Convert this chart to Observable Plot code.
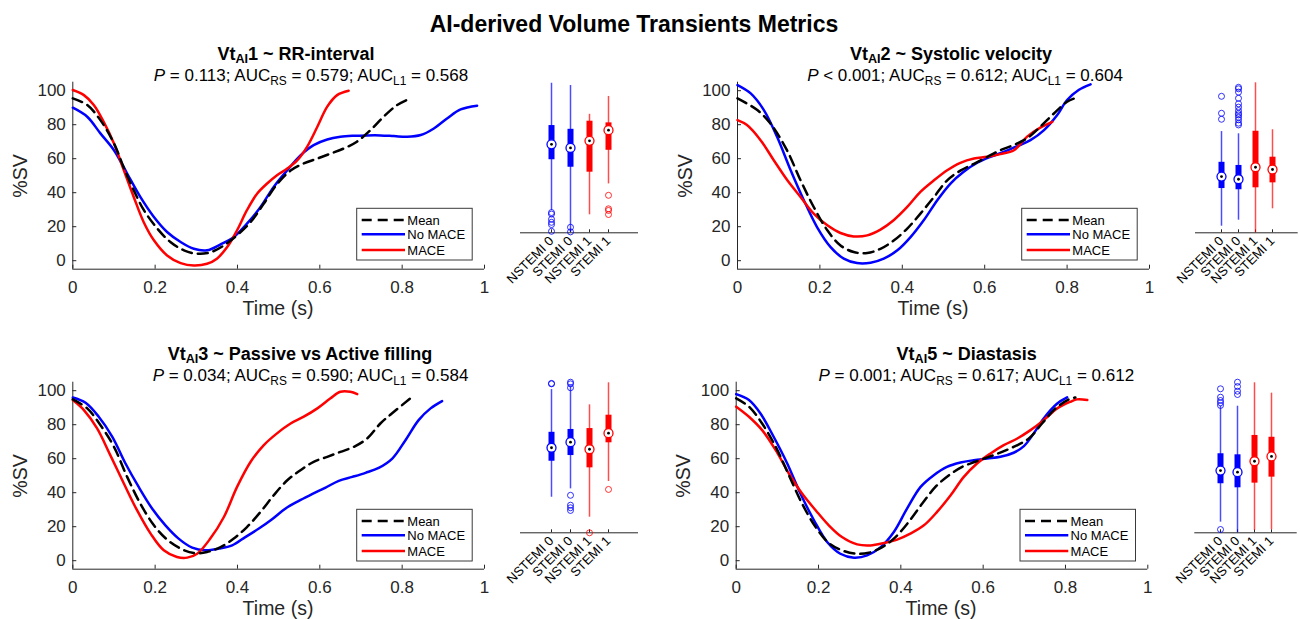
<!DOCTYPE html>
<html><head><meta charset="utf-8">
<script src="https://cdn.jsdelivr.net/npm/d3@7"></script>
<script src="https://cdn.jsdelivr.net/npm/@observablehq/plot@0.6"></script>
<style>
body{margin:0;background:#fff;}
#root{position:relative;width:1300px;height:619px;overflow:hidden;background:#fff;font-family:"Liberation Sans",Arial,sans-serif;}
#root svg{position:absolute;overflow:visible;}
</style></head><body><div id="root"></div>
<script>
// ---------- DATA ----------
const mainTitle = "AI-derived Volume Transients Metrics";
const metricNums = ["1", "2", "3", "5"];
const metricNames = ["RR-interval", "Systolic velocity", "Passive vs Active filling", "Diastasis"];
const pValues = ["= 0.113", "< 0.001", "= 0.034", "= 0.001"];
const aucRS = ["0.579", "0.612", "0.590", "0.617"];
const aucL1 = ["0.568", "0.604", "0.584", "0.612"];
const legendLabels = ["Mean", "No MACE", "MACE"];
const xTicks = [0, 0.2, 0.4, 0.6, 0.8, 1];
const yTicks = [0, 20, 40, 60, 80, 100];
const boxGroups = ["NSTEMI 0", "STEMI 0", "NSTEMI 1", "STEMI 1"];
const boxColors = ["#0000ff", "#0000ff", "#ff0000", "#ff0000"];

// [time (s), %SV]
const p1Mean = [[0,95.5],[0.035,91.6],[0.067,82.7],[0.1,69],[0.125,54],[0.15,40.5],[0.172,30],[0.205,19],[0.237,11],[0.27,6.1],[0.302,4.1],[0.334,4.9],[0.367,9],[0.399,15],[0.432,22.8],[0.464,33.6],[0.496,45],[0.529,53],[0.561,57.2],[0.594,60.1],[0.626,63],[0.658,66],[0.69,70],[0.723,76.8],[0.755,84.7],[0.788,91.6],[0.82,95.5]];
const p1NoMace = [[0,90],[0.035,84.7],[0.067,74.9],[0.1,65],[0.132,51.3],[0.164,37.5],[0.197,25.7],[0.229,16.9],[0.262,11],[0.294,7],[0.326,6.1],[0.359,9.6],[0.391,14],[0.423,21.8],[0.456,31.6],[0.488,43.4],[0.521,53.2],[0.553,62],[0.585,68],[0.618,71.3],[0.65,72.9],[0.683,73.5],[0.715,73.7],[0.747,73.7],[0.78,73.3],[0.812,72.9],[0.845,73.9],[0.877,77.8],[0.909,83.7],[0.942,89],[0.982,91.2]];
const p1Mace = [[0,100.4],[0.027,97.4],[0.051,91.6],[0.075,81.7],[0.1,69],[0.124,53.2],[0.148,37.5],[0.172,22.8],[0.197,12],[0.229,3.1],[0.262,-1.4],[0.294,-2.8],[0.326,-1.8],[0.35,1.2],[0.375,8],[0.399,17.9],[0.423,29.7],[0.448,39.5],[0.472,45.4],[0.496,50.3],[0.521,54.2],[0.545,59],[0.569,67],[0.594,78.8],[0.618,90.6],[0.642,97.4],[0.67,100]];

const p2Mean = [[0,95.5],[0.048,88.6],[0.08,80.7],[0.12,65],[0.153,47.3],[0.185,31.6],[0.218,17.9],[0.25,9],[0.282,5.1],[0.315,4.5],[0.347,7],[0.38,12],[0.412,18.9],[0.444,27.7],[0.477,37.5],[0.509,47.3],[0.541,53],[0.574,57],[0.606,61],[0.638,65],[0.67,68],[0.703,72],[0.735,78.8],[0.768,86.6],[0.8,93.5],[0.824,96]];
const p2NoMace = [[0,103.3],[0.032,98.4],[0.064,88.6],[0.096,72.9],[0.129,53.2],[0.161,35.6],[0.193,19.8],[0.226,8],[0.258,1.2],[0.29,-1.4],[0.323,-1.2],[0.355,1.2],[0.388,6.1],[0.42,13.9],[0.452,23.8],[0.485,35.6],[0.517,45.4],[0.549,52.3],[0.582,57.6],[0.614,61.1],[0.646,64],[0.679,67.4],[0.711,70.9],[0.744,76.8],[0.776,85.7],[0.8,94.5],[0.828,100.4],[0.857,103.7]];
const p2Mace = [[0,82.7],[0.023,79.8],[0.056,70.9],[0.088,59.1],[0.121,47.3],[0.153,37.5],[0.185,27.7],[0.218,20.8],[0.25,16.3],[0.282,14.3],[0.315,14.9],[0.347,18.3],[0.379,23.8],[0.412,31.6],[0.444,40.5],[0.477,47.3],[0.509,53.2],[0.541,57.6],[0.574,60.1],[0.606,61.1],[0.638,62.7],[0.671,65],[0.703,73],[0.735,78.3],[0.764,81.7]];

const p3Mean = [[0,94.9],[0.035,89.6],[0.067,79.8],[0.1,67],[0.132,49.3],[0.164,33.6],[0.197,20.8],[0.229,12.4],[0.262,7.1],[0.294,4.5],[0.326,5.1],[0.359,8],[0.391,13],[0.423,19.8],[0.456,28.7],[0.488,38.5],[0.521,47.3],[0.553,53.2],[0.585,58.2],[0.618,61.1],[0.65,64],[0.683,67],[0.715,71.9],[0.747,80.7],[0.78,87.6],[0.82,95.5]];
const p3NoMace = [[0,96],[0.031,92.9],[0.063,84.7],[0.096,72.9],[0.128,57.2],[0.16,43.4],[0.193,30.6],[0.225,20.8],[0.257,13],[0.29,7.7],[0.322,6.1],[0.355,7.1],[0.387,9],[0.419,13.9],[0.452,18.9],[0.484,24.4],[0.516,30.6],[0.549,35.2],[0.581,39.1],[0.614,43],[0.646,47],[0.679,49.3],[0.711,51.7],[0.743,54.6],[0.776,60.1],[0.808,70.9],[0.84,82.7],[0.869,89.6],[0.897,93.9]];
const p3Mace = [[0,94.5],[0.027,88.6],[0.059,77.8],[0.091,62.1],[0.124,45.4],[0.156,29.7],[0.189,15.9],[0.221,6.1],[0.253,2.2],[0.278,1.8],[0.302,4.1],[0.334,13],[0.367,25.7],[0.399,43.4],[0.432,58.2],[0.464,68],[0.496,74.9],[0.529,80.7],[0.561,84.7],[0.594,89.6],[0.626,95.5],[0.65,99.4],[0.674,99.4],[0.691,98]];

const p4Mean = [[0,95.5],[0.031,90.6],[0.063,80.7],[0.096,67],[0.128,50.3],[0.16,33.6],[0.193,19.8],[0.225,10.4],[0.257,6.1],[0.29,4.1],[0.322,4.7],[0.355,8],[0.387,13.9],[0.419,22.8],[0.452,33.6],[0.484,43.4],[0.517,50.3],[0.549,55.2],[0.581,58.2],[0.614,61.1],[0.646,64],[0.678,67.4],[0.711,71.9],[0.743,80.7],[0.776,89.6],[0.808,94.9],[0.824,96]];
const p4NoMace = [[0,98],[0.031,94.5],[0.059,86.6],[0.091,72.9],[0.124,57.2],[0.156,39.5],[0.189,23.8],[0.221,11],[0.253,4.1],[0.286,1.8],[0.318,3.1],[0.351,8],[0.383,16.9],[0.415,30.6],[0.448,43.4],[0.48,50.3],[0.512,55.2],[0.545,57.8],[0.577,59.1],[0.61,60.1],[0.642,61.1],[0.674,63.5],[0.699,67.4],[0.723,74.9],[0.747,83.7],[0.78,92.5],[0.804,96.1]];
const p4Mace = [[0,90.6],[0.031,84.7],[0.063,76.8],[0.096,65],[0.128,51.3],[0.16,39.5],[0.193,29.7],[0.225,20.8],[0.257,13.9],[0.294,9.6],[0.326,9],[0.359,10.4],[0.391,12.4],[0.423,15.9],[0.456,20.8],[0.488,28.7],[0.521,38.5],[0.553,49.3],[0.585,57.2],[0.618,63.1],[0.65,68],[0.683,71.9],[0.715,76.8],[0.747,82.7],[0.78,89.6],[0.812,93.5],[0.828,94.9],[0.853,94.5]];

// boxplot statistics per panel (relative units, axis bottom = 0), order = boxGroups
const boxLo  = [[14.9, 0.4, 12, 32.6], [4.4, 8.4, 0, 16], [23.7, 29.3, 10.4, 34.2], [7.1, 0, 1.6, 2]];
const boxQ1  = [[48.7, 43.7, 40.4, 55], [29.5, 28.7, 30, 33.3], [47.7, 51.5, 43.3, 60], [32.7, 30, 33.1, 37.1]];
const boxMed = [[59, 56.6, 61.3, 68.4], [37.5, 35.7, 43.7, 42.2], [56.7, 60.4, 55.7, 66.4], [41.5, 40.4, 47.7, 50.9]];
const boxQ3  = [[71.5, 69, 74.4, 73.3], [47, 44.9, 67.7, 50.4], [67, 68.9, 69.5, 78.4], [52.7, 52, 64.9, 63.7]];
const boxHi  = [[99.7, 98.2, 79, 90.9], [67.5, 66, 100, 68.7], [95.5, 97.5, 85.3, 100], [84.4, 84.4, 100, 93.1]];
const boxOut = [
  [[13.5, 12.5, 9, 7, 5.5, 1], [3.7, 0.6], [], [25, 16, 14.9, 12.2]],
  [[91, 79.7, 75.7], [97, 96, 93.8, 89.7, 86, 83.8, 81.5, 79.7, 78.6, 77, 75.3, 73.1, 71.9], [], []],
  [[99.3, 99.6], [100.4, 99.3, 96.7, 25, 18.4, 16.7, 14.9], [0], [28.9]],
  [[96, 90.4, 88.2, 86.7, 84.9, 2.2], [100.4, 97.5, 94.4, 92.2], [], []]
];

// ---------- LAYOUT ----------
const FONT = '"Liberation Sans", Arial, sans-serif';
const AX = "#262626";
const root = document.getElementById("root");
const series = [[p1Mean, p1NoMace, p1Mace], [p2Mean, p2NoMace, p2Mace], [p3Mean, p3NoMace, p3Mace], [p4Mean, p4NoMace, p4Mace]];
const lineGeom = [
  {left: 0, top: 70, w: 500, h: 250, ml: 72.3, mr: 16, mt: 11.7, mb: 51.3},
  {left: 660, top: 70, w: 500, h: 250, ml: 77, mr: 11, mt: 11.7, mb: 51.3},
  {left: 0, top: 370, w: 500, h: 249, ml: 72.3, mr: 16, mt: 11.7, mb: 50.3},
  {left: 660, top: 370, w: 500, h: 249, ml: 75.7, mr: 12.7, mt: 11.7, mb: 50.3}
];
const boxGeom = [
  {left: 505, top: 70, w: 150, h: 240, ml: 15, mr: 17, mt: 12.3, mb: 77.7},
  {left: 1180, top: 70, w: 120, h: 240, ml: 15, mr: 2.3, mt: 12.3, mb: 77.7},
  {left: 505, top: 370, w: 150, h: 249, ml: 15, mr: 17, mt: 12.3, mb: 86.7},
  {left: 1180, top: 370, w: 120, h: 249, ml: 14.3, mr: 3.3, mt: 12.3, mb: 86.7}
];
const txt = {
  titleX: [296, 951, 300, 966.7], titleY: [59.7, 59.7, 359.7, 359.7],
  subX: [311, 965, 310.5, 976.3], subY: [81, 81, 381, 381],
  ylabX: [20, 684.7, 20, 683.4], ylabY: [176, 176, 476, 476],
  xlabX: [278, 933, 278, 941], xlabY: [315, 315, 614.5, 614.5],
  legX: [356.7, 1021.7, 356.7, 1020], legY: [208.3, 208.3, 509.3, 509.3]
};

function place(el, g) {
  el.style.position = "absolute";
  el.style.left = g.left + "px";
  el.style.top = g.top + "px";
  root.appendChild(el);
}

for (let k = 0; k < 4; k++) {
  const g = lineGeom[k];
  const fw = g.w - g.ml - g.mr, fh = g.h - g.mt - g.mb;
  const [mean, noMace, mace] = series[k];
  const chart = Plot.plot({
    width: g.w, height: g.h,
    marginLeft: g.ml, marginRight: g.mr, marginTop: g.mt, marginBottom: g.mb,
    x: {domain: [0, 1]},
    y: {domain: [-5, 105]},
    style: {fontFamily: FONT, fontSize: "17px", color: AX, background: "transparent", overflow: "visible"},
    marks: [
      Plot.ruleX([0], {stroke: AX, strokeWidth: 1}),
      Plot.ruleY([-5], {stroke: AX, strokeWidth: 1}),
      Plot.tickX(xTicks, {x: d => d, stroke: AX, insetTop: fh - 4}),
      Plot.tickY(yTicks, {y: d => d, stroke: AX, insetRight: fw - 4}),
      Plot.axisX({ticks: xTicks, tickSize: 0, tickPadding: 12, tickFormat: d3.format("~g"), label: null}),
      Plot.axisY({ticks: yTicks, tickSize: 0, tickPadding: 7, label: null}),
      Plot.line(noMace, {stroke: "#0000ff", strokeWidth: 2.5, curve: "catmull-rom"}),
      Plot.line(mace, {stroke: "#ff0000", strokeWidth: 2.5, curve: "catmull-rom"}),
      Plot.line(mean, {stroke: "#000000", strokeWidth: 2.5, strokeDasharray: "10,6", curve: "catmull-rom"})
    ]
  });
  place(chart, g);
}

for (let k = 0; k < 4; k++) {
  const g = boxGeom[k];
  const fh = g.h - g.mt - g.mb;
  const rows = boxGroups.map((grp, j) => ({
    g: grp, c: boxColors[j], lo: boxLo[k][j], q1: boxQ1[k][j], med: boxMed[k][j], q3: boxQ3[k][j], hi: boxHi[k][j]
  }));
  const outs = boxGroups.flatMap((grp, j) => boxOut[k][j].map(v => ({g: grp, c: boxColors[j], v})));
  const chart = Plot.plot({
    width: g.w, height: g.h,
    marginLeft: g.ml, marginRight: g.mr, marginTop: g.mt, marginBottom: g.mb,
    x: {type: "point", domain: boxGroups, padding: 1.5},
    y: {domain: [0, 100], axis: null},
    color: {type: "identity"},
    style: {fontFamily: FONT, fontSize: "13px", color: "#000", background: "transparent", overflow: "visible"},
    marks: [
      Plot.ruleY([0], {stroke: AX, strokeWidth: 1}),
      Plot.tickX(boxGroups, {x: d => d, stroke: AX, insetTop: fh - 3}),
      Plot.axisX({tickSize: 0, tickPadding: 6, tickRotate: -45, label: null}),
      Plot.ruleX(rows, {x: "g", y1: "lo", y2: "hi", stroke: "c", strokeWidth: 1.5, strokeOpacity: 0.7}),
      Plot.ruleX(rows, {x: "g", y1: "q1", y2: "q3", stroke: "c", strokeWidth: 6}),
      Plot.dot(outs, {x: "g", y: "v", r: 3, stroke: "c", fill: "none", strokeWidth: 1, strokeOpacity: 0.8}),
      Plot.dot(rows, {x: "g", y: "med", r: 4.5, fill: "white", stroke: "c", strokeWidth: 1.3}),
      Plot.dot(rows, {x: "g", y: "med", r: 1.4, fill: "black", stroke: "none"})
    ]
  });
  place(chart, g);
}

// ---------- TEXT OVERLAY ----------
const ov = d3.create("svg").attr("width", 1300).attr("height", 619)
  .style("left", "0px").style("top", "0px").style("pointer-events", "none")
  .attr("font-family", FONT);

function rich(x, y, parts, size, weight, fill, shift) {
  const t = ov.append("text").attr("x", x).attr("y", y).attr("text-anchor", "middle")
    .attr("font-size", size).attr("font-weight", weight).attr("fill", fill);
  let shifted = 0;
  for (const p of parts) {
    const s = t.append("tspan").text(p.t);
    const want = p.sub ? shift : 0;
    if (want !== shifted) { s.attr("dy", want - shifted); shifted = want; }
    if (p.sub) s.attr("font-size", size * 0.7);
    if (p.it) s.attr("font-style", "italic");
  }
}

rich(634, 31.7, [{t: mainTitle}], 23, "bold", "#000", 0);

for (let k = 0; k < 4; k++) {
  rich(txt.titleX[k], txt.titleY[k], [{t: "Vt"}, {t: "AI", sub: true}, {t: metricNums[k] + " ~ " + metricNames[k]}], 18, "bold", "#000", 3);
  rich(txt.subX[k], txt.subY[k], [
    {t: "P", it: true}, {t: " " + pValues[k] + "; AUC"}, {t: "RS", sub: true},
    {t: " = " + aucRS[k] + "; AUC"}, {t: "L1", sub: true}, {t: " = " + aucL1[k]}
  ], 17, "normal", "#000", 3.5);
  ov.append("text").attr("transform", `translate(${txt.ylabX[k]},${txt.ylabY[k]}) rotate(-90)`)
    .attr("text-anchor", "middle").attr("dy", "0.35em").attr("font-size", 19.5).attr("fill", AX).text("%SV");
  ov.append("text").attr("x", txt.xlabX[k]).attr("y", txt.xlabY[k])
    .attr("text-anchor", "middle").attr("font-size", 19.5).attr("fill", AX).text("Time (s)");

  // legend
  const lx = txt.legX[k], ly = txt.legY[k];
  const lg = ov.append("g");
  lg.append("rect").attr("x", lx).attr("y", ly).attr("width", 115.5).attr("height", 51.7)
    .attr("fill", "white").attr("stroke", "#3a3a3a").attr("stroke-width", 1);
  const rowY = [11.7, 26, 41.7];
  const rowStyle = [{c: "#000", d: "10,6"}, {c: "#0000ff", d: null}, {c: "#ff0000", d: null}];
  legendLabels.forEach((lab, i) => {
    const ln = lg.append("line").attr("x1", lx + 5).attr("x2", lx + 48.3)
      .attr("y1", ly + rowY[i]).attr("y2", ly + rowY[i])
      .attr("stroke", rowStyle[i].c).attr("stroke-width", 2.5);
    if (rowStyle[i].d) ln.attr("stroke-dasharray", rowStyle[i].d);
    lg.append("text").attr("x", lx + 50.6).attr("y", ly + rowY[i] + 4.6)
      .attr("font-size", 13).attr("fill", "#000").text(lab);
  });
}
root.appendChild(ov.node());
</script></body></html>
